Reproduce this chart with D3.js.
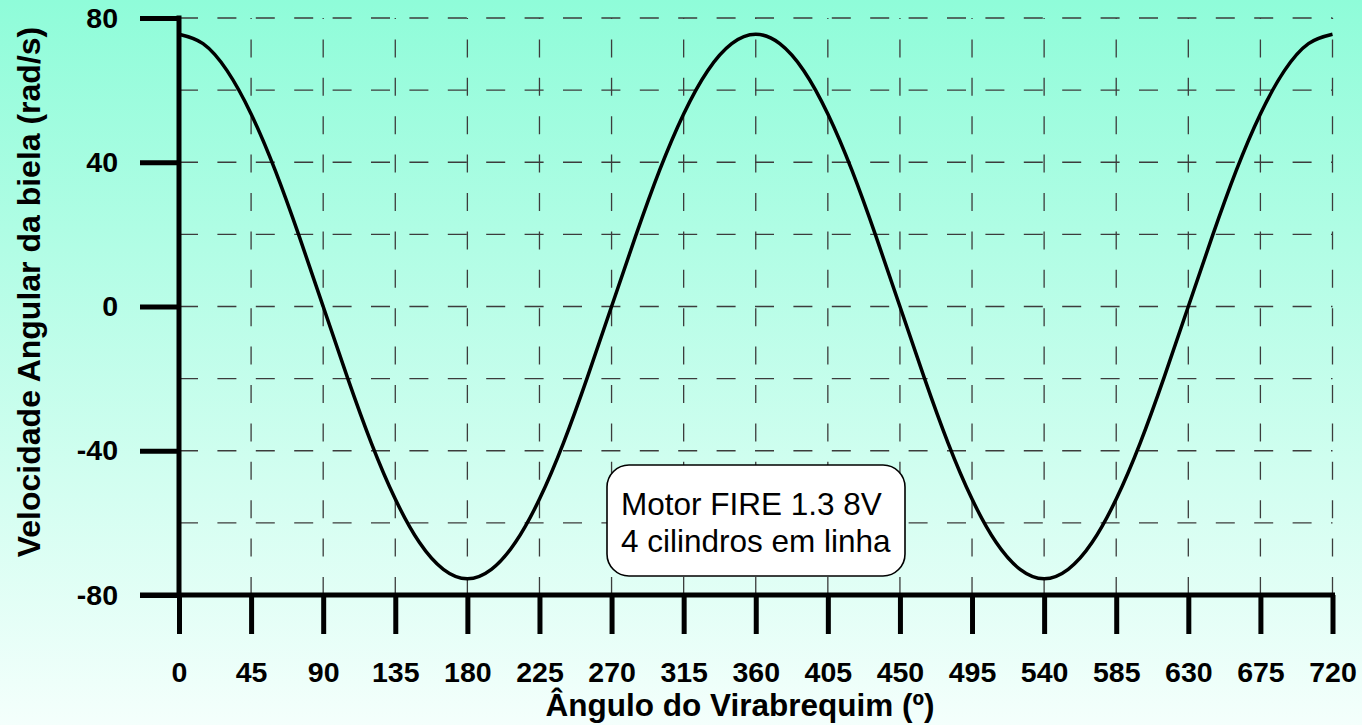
<!DOCTYPE html>
<html>
<head>
<meta charset="utf-8">
<script src="https://cdn.jsdelivr.net/npm/d3@7"></script>
<style>
  body { margin: 0; padding: 0; }
  svg { display: block; font-family: "Liberation Sans", Arial, sans-serif; }
</style>
</head>
<body>
<div id="chart"></div>
<script>
// crank angle (deg) and connecting rod angular velocity (rad/s)
let angles = [0, 15, 30, 45, 60, 75, 90, 105, 120, 135, 150, 165, 180,
              195, 210, 225, 240, 255, 270, 285, 300, 315, 330, 345, 360,
              375, 390, 405, 420, 435, 450, 465, 480, 495, 510, 525, 540,
              555, 570, 585, 600, 615, 630, 645, 660, 675, 690, 705, 720];
let velocity = [75.5, 72.9, 65.4, 53.4, 37.8, 19.5, 0, -19.5, -37.8, -53.4, -65.4, -72.9, -75.5,
                -72.9, -65.4, -53.4, -37.8, -19.5, 0, 19.5, 37.8, 53.4, 65.4, 72.9, 75.5,
                72.9, 65.4, 53.4, 37.8, 19.5, 0, -19.5, -37.8, -53.4, -65.4, -72.9, -75.5,
                -72.9, -65.4, -53.4, -37.8, -19.5, 0, 19.5, 37.8, 53.4, 65.4, 72.9, 75.5];
let xTicks = [0, 45, 90, 135, 180, 225, 270, 315, 360, 405, 450, 495, 540, 585, 630, 675, 720];
let xMinorTicks = d3.range(0, 721, 15);
let yTicks = [-80, -40, 0, 40, 80];
let yMinorTicks = [-60, -20, 20, 60];
let yGrid = [-60, -40, -20, 0, 20, 40, 60, 80];
let noteLines = ["Motor FIRE 1.3 8V", "4 cilindros em linha"];

let width = 1362, height = 725;
let margin = {top: 18, right: 29, bottom: 130, left: 179};

let svg = d3.select("#chart")
  .append("svg")
    .attr("width", width)
    .attr("height", height);

// background gradient
let grad = svg.append("defs").append("linearGradient")
    .attr("id", "bg")
    .attr("x1", 0).attr("y1", 0).attr("x2", 0).attr("y2", 1);
grad.append("stop").attr("offset", "0%").attr("stop-color", "#8ffcd9");
grad.append("stop").attr("offset", "100%").attr("stop-color", "#f4fffc");
svg.append("rect")
    .attr("width", width).attr("height", height)
    .attr("fill", "url(#bg)");

let x = d3.scaleLinear()
    .domain([0, 720])
    .range([margin.left, width - margin.right - 0.5]);
let y = d3.scaleLinear()
    .domain([-80, 80])
    .range([height - margin.bottom, margin.top]);

// dashed grid
let grid = svg.append("g")
    .attr("stroke", "#3c3c3c")
    .attr("stroke-width", 1.3)
    .attr("fill", "none");
grid.selectAll(".hg")
  .data(yGrid)
  .enter().append("line")
    .attr("x1", x(0)).attr("x2", x(720))
    .attr("y1", d => y(d)).attr("y2", d => y(d))
    .attr("stroke-dasharray", "19,19.4");
grid.selectAll(".vg")
  .data(xTicks.filter(d => d > 0))
  .enter().append("line")
    .attr("x1", d => x(d)).attr("x2", d => x(d))
    .attr("y1", y(-80)).attr("y2", y(80))
    .attr("stroke-dasharray", "18,20.4");

// curve
let line = d3.line()
    .x((d, i) => x(angles[i]))
    .y(d => y(d))
    .curve(d3.curveNatural);
svg.append("path")
    .datum(velocity)
    .attr("fill", "none")
    .attr("stroke", "#000")
    .attr("stroke-width", 3.5)
    .attr("d", line);

let plain = d => String(d);

// x axis
let xAxis = svg.append("g")
    .attr("transform", "translate(0," + y(-80) + ")");
xAxis.call(d3.axisBottom(x).tickValues(xMinorTicks).tickSize(20).tickFormat(""));
xAxis.call(d3.axisBottom(x).tickValues(xTicks).tickSize(39).tickPadding(28).tickSizeOuter(0).tickFormat(plain));
xAxis.selectAll("path.domain").remove();
xAxis.selectAll("line").attr("stroke", "#000").attr("stroke-width", 5);
xAxis.selectAll("text")
    .attr("fill", "#000")
    .style("font-size", "28.5px")
    .style("font-weight", "bold")
    .style("font-family", "'Liberation Sans', Arial, sans-serif");
xAxis.append("line")
    .attr("x1", x(0) - 39).attr("x2", x(720) + 2.5)
    .attr("y1", 0).attr("y2", 0)
    .attr("stroke", "#000").attr("stroke-width", 5);

// y axis
let yAxis = svg.append("g")
    .attr("transform", "translate(" + x(0) + ",0)");
yAxis.call(d3.axisLeft(y).tickValues(yMinorTicks).tickSize(20).tickFormat(""));
yAxis.call(d3.axisLeft(y).tickValues(yTicks).tickSize(39).tickPadding(22).tickSizeOuter(0).tickFormat(plain));
yAxis.selectAll("path.domain").remove();
yAxis.selectAll("line").attr("stroke", "#000").attr("stroke-width", 5);
yAxis.selectAll("text")
    .attr("fill", "#000")
    .style("font-size", "28.5px")
    .style("font-weight", "bold")
    .style("font-family", "'Liberation Sans', Arial, sans-serif");
yAxis.append("line")
    .attr("x1", 0).attr("x2", 0)
    .attr("y1", y(80) - 2.5).attr("y2", y(-80) + 2.5)
    .attr("stroke", "#000").attr("stroke-width", 5);

// axis titles
svg.append("text")
    .attr("x", 740)
    .attr("y", 716)
    .attr("text-anchor", "middle")
    .style("font-size", "31.5px")
    .style("font-weight", "bold")
    .text("Ângulo do Virabrequim (º)");

svg.append("text")
    .attr("transform", "translate(40," + 292 + ") rotate(-90)")
    .attr("text-anchor", "middle")
    .style("font-size", "32px")
    .style("font-weight", "bold")
    .text("Velocidade Angular da biela (rad/s)");

// note box
let note = svg.append("g");
note.append("rect")
    .attr("x", 607).attr("y", 465)
    .attr("width", 298).attr("height", 111)
    .attr("rx", 22).attr("ry", 22)
    .attr("fill", "#fff")
    .attr("stroke", "#000")
    .attr("stroke-width", 1.6);
note.selectAll("text")
  .data(noteLines)
  .enter().append("text")
    .attr("x", 621)
    .attr("y", (d, i) => 515 + i * 37)
    .style("font-size", "31.5px")
    .text(d => d);
</script>
</body>
</html>
